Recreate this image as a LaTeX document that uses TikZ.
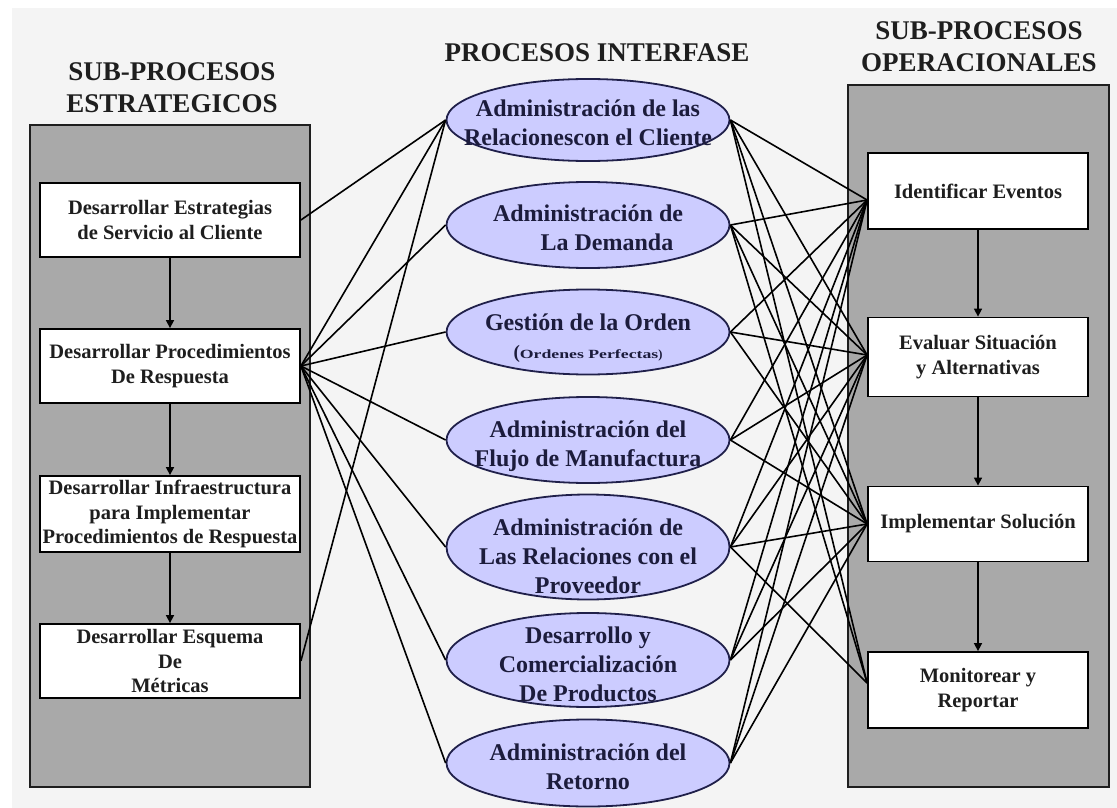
\documentclass[tikz,border=0pt]{standalone}
\usepackage{fontspec}
\setmainfont{Liberation Serif}
\usepackage{graphicx}
\usetikzlibrary{shapes.geometric,arrows.meta}

\definecolor{pagebg}{HTML}{F4F4F4}
\definecolor{panelgray}{HTML}{A9A9A9}
\definecolor{lav}{HTML}{CCCCFF}
\definecolor{navyline}{HTML}{20204A}
\definecolor{navytext}{HTML}{1C1C3C}
\definecolor{inkdark}{HTML}{1E1E1E}

\newcommand{\ttlfont}{\fontsize{27}{32}\selectfont\bfseries}
\newcommand{\bxfont}{\fontsize{20.5}{24.5}\selectfont\bfseries}
\newcommand{\elfont}{\fontsize{24}{29}\selectfont\bfseries}

\tikzset{
  panel/.style={draw=inkdark, line width=1.8pt, fill=panelgray},
  subbox/.style={draw=black, line width=1.8pt, fill=white, align=center,
    font=\bxfont, text=inkdark, inner sep=0pt},
  ifase/.style={ellipse, draw=navyline, line width=1.8pt, fill=lav,
    minimum width=283pt, inner sep=0pt},
  iftext/.style={align=center, font=\elfont, text=navytext, inner sep=0pt},
  heading/.style={align=center, font=\ttlfont, text=inkdark, inner sep=0pt},
  link/.style={line width=1.6pt, black},
  flow/.style={-{Triangle[width=8pt,length=8pt]}, line width=1.6pt, black}
}

\begin{document}
\begin{tikzpicture}[x=1pt,y=-1pt]
\useasboundingbox (0,0) rectangle (1117,808);
\fill[pagebg] (12,8) rectangle (1117,808);

% column headings
\node[heading] (hleft) at (172,88) {SUB-PROCESOS\\ESTRATEGICOS};
\node[heading] (hmid) at (597,53) {PROCESOS INTERFASE};
\node[heading] (hright) at (979,47) {SUB-PROCESOS\\OPERACIONALES};

% grey panels
\node[panel, minimum width=280pt, minimum height=662pt] (lpanel) at (170,456) {};
\node[panel, minimum width=261pt, minimum height=702pt] (rpanel) at (978.5,436) {};

% strategic sub-processes
\node[subbox, minimum width=260pt, minimum height=74pt] (st1) at (170,220)
  {Desarrollar Estrategias\\de Servicio al Cliente};
\node[subbox, minimum width=260pt, minimum height=74pt] (st2) at (170,366)
  {Desarrollar Procedimientos\\De Respuesta};
\node[subbox, minimum width=260pt, minimum height=76pt] (st3) at (170,514)
  {Desarrollar Infraestructura\\para Implementar\\Procedimientos de Respuesta};
\node[subbox, minimum width=260pt, minimum height=74pt] (st4) at (170,661)
  {Desarrollar Esquema\\De\\Métricas};
\draw[flow] (st1) -- (st2);
\draw[flow] (st2) -- (st3);
\draw[flow] (st3) -- (st4);

% operational sub-processes
\node[subbox, minimum width=220pt, minimum height=76pt] (op1) at (978,191)
  {Identificar Eventos};
\node[subbox, minimum width=220pt, minimum height=79pt] (op2) at (978,357)
  {Evaluar Situación\\y Alternativas};
\node[subbox, minimum width=220pt, minimum height=75pt] (op3) at (978,524)
  {Implementar Solución};
\node[subbox, minimum width=220pt, minimum height=76pt] (op4) at (978,690)
  {Monitorear y\\Reportar};
\draw[flow] (op1) -- (op2);
\draw[flow] (op2) -- (op3);
\draw[flow] (op3) -- (op4);

\coordinate (op1-in) at ([yshift=-9pt]op1.west);
\coordinate (op2-in) at ([yshift=2pt]op2.west);
\coordinate (op3-in) at (op3.west);
\coordinate (op4-in) at ([yshift=7pt]op4.west);

% interface processes
\node[ifase, minimum height=82pt] (e1) at (588,120) {};
\node[ifase, minimum height=86pt] (e2) at (588,225) {};
\node[ifase, minimum height=85pt] (e3) at (588,332) {};
\node[ifase, minimum height=86pt] (e4) at (588,440) {};
\node[ifase, minimum height=105pt] (e5) at (588,547) {};
\node[ifase, minimum height=94pt] (e6) at (588,660) {};
\node[ifase, minimum height=87pt] (e7) at (588,763) {};

% links strategic -> interface
\draw[link] (st1.east) -- (e1.west);
\draw[link] (st4.east) -- (e1.west);
\foreach \i in {1,...,7} \draw[link] (st2.east) -- (e\i.west);

% links interface -> operational
\foreach \i in {1,...,7} \foreach \j in {1,2,3} \draw[link] (e\i.east) -- (op\j-in);
\foreach \i in {1,2,5} \draw[link] (e\i.east) -- (op4-in);

% interface labels
\node[iftext] (t1) at ([yshift=-2.5pt]e1.center) {Administración de las\\Relacionescon el Cliente};
\node[iftext] (t2) at ([yshift=-3pt]e2.center) {Administración de\\\hspace*{38pt}La Demanda};
\node[iftext] (t3) at ([yshift=-6pt]e3.center) {Gestión de la Orden\\[-1pt]{\fontsize{19}{20}\selectfont(}{\fontsize{12.5}{20}\selectfont\scalebox{1.42}[1]{Ordenes Perfectas})}};
\node[iftext] (t4) at ([yshift=-6pt]e4.center) {Administración del\\Flujo de Manufactura};
\node[iftext] (t5) at ([yshift=-9pt]e5.center) {Administración de\\Las Relaciones con el\\Proveedor};
\node[iftext] (t6) at ([yshift=-4pt]e6.center) {Desarrollo y\\Comercialización\\De Productos};
\node[iftext] (t7) at ([yshift=-4pt]e7.center) {Administración del\\Retorno};
\end{tikzpicture}
\end{document}
